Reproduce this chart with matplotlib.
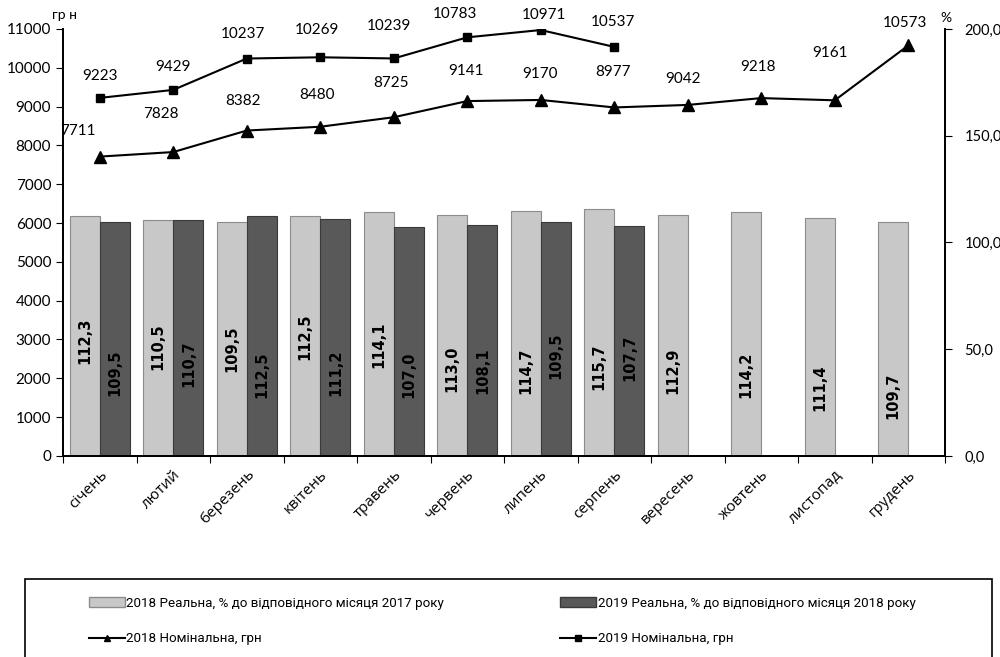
import matplotlib
matplotlib.use("Agg")
import matplotlib.pyplot as plt
import matplotlib.ticker as ticker
import matplotlib.transforms as mtransforms
from matplotlib.patches import Patch, Rectangle
from matplotlib.lines import Line2D
import numpy as np

months = ["січень", "лютий", "березень", "квітень", "травень", "червень",
          "липень", "серпень", "вересень", "жовтень", "листопад", "грудень"]

real_2018 = [112.3, 110.5, 109.5, 112.5, 114.1, 113.0, 114.7, 115.7, 112.9, 114.2, 111.4, 109.7]
real_2019 = [109.5, 110.7, 112.5, 111.2, 107.0, 108.1, 109.5, 107.7]
nominal_2018 = [7711, 7828, 8382, 8480, 8725, 9141, 9170, 8977, 9042, 9218, 9161, 10573]
nominal_2019 = [9223, 9429, 10237, 10269, 10239, 10783, 10971, 10537]

# label placement (style only), offsets in pixels
lab_y_2018 = [54, 51, 50, 56, 52, 41, 40, 42, 40, 38, 32, 28]
lab_y_2019 = [39, 43, 38, 39, 38, 40, 47, 46]
off_2018 = [(-22, 26), (-12, 38), (-4, 30), (-3, 32), (-3, 34), (-1, 30), (-1, 26), (-1, 35), (-5, 26), (-3, 31), (-5, 47), (-3, 22)]
off_2019 = [(0, 22), (0, 23), (-4, 25), (-3, 27), (-5, 32), (-12, 23), (3, 15), (-1, 25)]

plt.rcParams['font.family'] = ['Lato', 'DejaVu Sans']

fig = plt.figure(figsize=(10, 6.57), dpi=100)
ax = fig.add_axes([0.063, 0.306, 0.882, 0.650])
ax2 = ax.twinx()

x = np.arange(len(months))
w = 0.41
x18 = x - w / 2
x19 = x[:len(real_2019)] + w / 2

ax2.bar(x18, real_2018, width=w, color="#c8c8c8", edgecolor="#8c8c8c", linewidth=0.8)
ax2.bar(x19, real_2019, width=w, color="#595959", edgecolor="#3a3a3a", linewidth=0.8)

for xi, v, ly in zip(x18, real_2018, lab_y_2018):
    ax2.text(xi, ly, f"{v:.1f}".replace(".", ","), rotation=90, ha="center", va="center",
             fontsize=10.5, fontweight="bold", family="DejaVu Sans", color="black")
for xi, v, ly in zip(x19, real_2019, lab_y_2019):
    ax2.text(xi, ly, f"{v:.1f}".replace(".", ","), rotation=90, ha="center", va="center",
             fontsize=10.5, fontweight="bold", family="DejaVu Sans", color="black")

ax.plot(x, nominal_2018, color="black", lw=1.5, marker="^", ms=8)
ax.plot(x[:len(nominal_2019)], nominal_2019, color="black", lw=1.5, marker="s", ms=6)

px = 72 / fig.dpi
for xi, v, o in zip(x, nominal_2018, off_2018):
    ax.annotate(str(v), (xi, v), xytext=(o[0] * px, o[1] * px), textcoords="offset points",
                ha="center", va="center", fontsize=11)
for xi, v, o in zip(x, nominal_2019, off_2019):
    ax.annotate(str(v), (xi, v), xytext=(o[0] * px, o[1] * px), textcoords="offset points",
                ha="center", va="center", fontsize=11)

ax.set_zorder(ax2.get_zorder() + 1)
ax.patch.set_visible(False)

ax.set_xlim(-0.5, len(months) - 0.5)
ax.set_ylim(0, 11000)
ax2.set_ylim(0, 200)
ax.yaxis.set_major_locator(ticker.MultipleLocator(1000))
ax2.yaxis.set_major_locator(ticker.MultipleLocator(50))
ax2.yaxis.set_major_formatter(ticker.FuncFormatter(lambda v, p: f"{v:.1f}".replace(".", ",")))

ax.set_xticks(np.arange(-0.5, len(months)), minor=False)
ax.set_xticklabels([])
ax.set_xticks(x, minor=True)
ax.set_xticklabels(months, minor=True, rotation=45, ha="right", rotation_mode="anchor",
                   fontsize=11, family=["Open Sans", "DejaVu Sans"])
shift = mtransforms.ScaledTranslation(30 / fig.dpi, 0, fig.dpi_scale_trans)
for lbl in ax.xaxis.get_minorticklabels():
    lbl.set_transform(lbl.get_transform() + shift)
ax.tick_params(axis="x", which="minor", length=0, pad=8)
ax.tick_params(axis="x", which="major", length=5, direction="out")
ax.tick_params(axis="y", labelsize=11, length=5)
ax2.tick_params(axis="y", labelsize=10.5, length=5, pad=9)

for a in (ax, ax2):
    a.spines["top"].set_visible(False)
    for s in a.spines.values():
        s.set_linewidth(1.3)

fig.text(0.052, 0.977, "гр н", fontsize=10, ha="left", va="center")
fig.text(0.946, 0.972, "%", fontsize=10, ha="center", va="center")

# legend box
fig.add_artist(Rectangle((0.025, -0.05), 0.967, 0.168, transform=fig.transFigure,
                         fill=False, edgecolor="black", linewidth=1.2))
handles = [Patch(facecolor="#c8c8c8", edgecolor="#8c8c8c"),
           Line2D([], [], color="black", lw=1.5, marker="^", ms=5),
           Patch(facecolor="#595959", edgecolor="#3a3a3a"),
           Line2D([], [], color="black", lw=1.5, marker="s", ms=5)]
labels = ["2018 Реальна, % до відповідного місяця 2017 року",
          "2018 Номінальна, грн",
          "2019 Реальна, % до відповідного місяця 2018 року",
          "2019 Номінальна, грн"]
fig.legend(handles, labels, ncol=2, frameon=False, loc="upper left",
           bbox_to_anchor=(0.077, 0.11), columnspacing=8.7, handlelength=2.7,
           handletextpad=0.1, labelspacing=1.7,
           prop={"family": ["Roboto", "DejaVu Sans"], "size": 9.6})

fig.savefig("out.png", dpi=100)
